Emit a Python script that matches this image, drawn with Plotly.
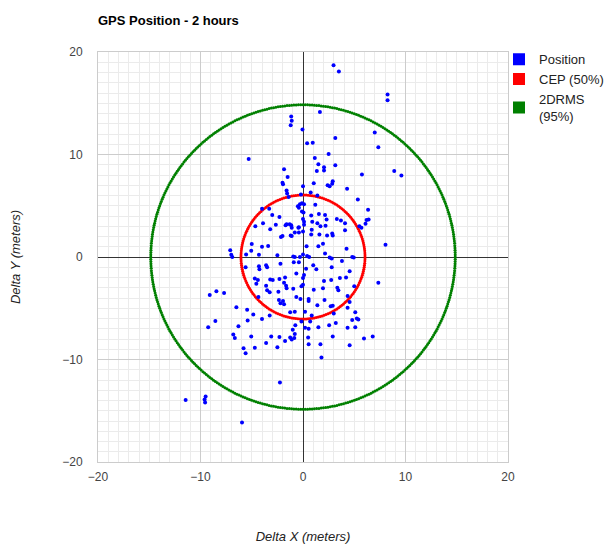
import numpy as np
import plotly.graph_objects as go

# ===============================
# DATOS
# ===============================
pos_x = [
    -1.15, -1.1, -1.2, -0.05, 0.4, -5.3, -1.85, -1.5, -2.0, -1.95, -1.6, 0.0, -1.55, -0.2,
    -0.5, -0.3, -0.1, 0.1, -0.4,
    -4.0, -3.3, -3.0, -2.3, -0.1, -3.9, -2.65, -1.6, -1.3, -0.4, -3.2, -2.0, -1.1, -0.8, 0.0,
    -5.0, -4.0, -3.4, -5.05, -7.1, -7.0, -6.9, -4.3, -2.5, -0.95, -0.3, -0.8,
    -1.4, 0.05, 0.0, 0.1, -4.65, -1.7, -1.15, -1.1, -0.45, -0.4, -2.15, -1.2, -5.55, 0.0, 0.4,
    2.98, 3.5, 8.25, 8.25, 1.65, 7.0, 3.15, 7.35, 0.95, 2.5, 1.15, 1.5, 3.15, 2.05, 2.05, 1.35,
    8.9, 9.6, 5.75, 1.05, 2.9, 2.85, 2.4, 2.6, 4.3, 0.75, 1.4, 5.35, 1.2, 6.35,
    0.8, 1.55, 2.15, 3.3, 3.7, 4.1, 6.2, 6.4, 6.1, 2.3, 0.1,
    1.7, 2.2, 5.5, 5.7, 0.85, 0.8, 1.6, 2.35, 2.85, 2.9, 4.1,
    1.95, 1.5, 0.35, 4.25, 8.05, 2.15, 2.6, 2.8, 4.8, 4.95, 0.6, 0.9, 1.4,
    -5.6, -4.3, -4.25, -3.6, -3.5, -2.2, -0.9, -0.4, -4.7, -4.55, -4.4, -3.2, -2.95, -2.3,
    -1.75, -1.85, -0.65, 0.0, -0.15, -1.65, -1.6, -3.6, -0.95,
    -9.1, -8.45, -7.7, -3.5, -3.25, -2.4, -4.35, -2.35, -2.2, -1.95, -1.85, -0.65, -0.25,
    -6.5, -5.45, -4.85, -4.0, -3.25, -5.4, -1.25, 0.2, -8.55, -9.25, -6.3,
    -0.75, -1.0, -0.8, -0.85, -1.1, -1.25,
    -6.8, -6.65, -5.05, -3.6, -3.1, -2.3, -1.75, -2.5, -5.8, -4.7, -5.6,
    -2.25, -11.45, -9.5, -9.6, -9.55, -5.95, 0.3,
    1.0, 1.3, 0.1, 0.0, 2.8, 3.8, 4.55, 4.2, 3.6, 2.75, 2.05, 7.35, 5.0, 3.35, 3.45, 1.95, 1.05,
    0.55, 0.55, 1.4, 2.1, 2.7, 2.9, 4.35, 4.55, 4.35, 5.1, 3.0, -0.8, 0.85, 0.7, -0.15,
    4.8, 5.25, 5.4, 2.55, 3.2, 4.35, 5.1, 1.5, 0.2, 0.55, 0.5, 0.55, 2.9, 1.7, 4.55,
    5.95, 6.8, 1.8,
]
pos_y = [
    13.7, 13.3, 12.85, 12.45, 11.1, 9.55, 8.55, 7.8, 7.25, 7.1, 6.5, 6.9, 6.2, 6.1,
    4.95, 5.15, 5.25, 5.15, 4.8,
    4.7, 4.7, 4.1, 3.9, 4.45, 3.3, 3.15, 3.2, 3.2, 2.9, 2.7, 2.05, 2.05, 2.4, 2.5,
    1.27, 1.0, 1.07, 0.62, 0.65, 0.23, 0.0, 0.23, 0.17, 0.05, 0.0, 0.0,
    5.85, 4.35, 3.7, 3.45, 3.0, 3.1, 3.1, 2.85, 2.85, 2.4, 1.95, 2.1, 0.25, 0.25, 0.1,
    18.7, 18.1, 15.85, 15.3, 14.15, 12.15, 11.6, 10.7, 11.15, 10.05, 9.65, 9.05, 8.95, 8.75, 8.45, 8.4,
    8.4, 7.95, 8.05, 7.2, 7.4, 7.15, 7.0, 6.9, 6.65, 6.3, 6.0, 5.6, 5.1, 4.6,
    4.05, 4.2, 4.1, 3.7, 3.55, 3.3, 3.6, 3.65, 3.25, 3.65, 3.15,
    3.0, 3.05, 3.0, 2.85, 2.65, 2.2, 2.2, 2.1, 2.3, 2.1, 2.6,
    1.3, 1.05, 1.05, 0.8, 1.2, 0.35, -0.05, -0.15, 0.0, -0.05, 0.0, 3.45, 3.3,
    -1.0, -0.9, -1.2, -0.8, -1.0, -0.65, -0.5, -0.5, -2.1, -2.6, -2.25, -2.2, -2.25, -2.15,
    -2.0, -2.5, -1.6, -2.7, -2.85, -2.8, -3.05, -2.8, -3.1,
    -3.7, -3.35, -3.5, -3.25, -3.45, -3.4, -3.9, -4.2, -4.5, -4.3, -4.6, -3.9, -4.1,
    -4.9, -5.15, -5.6, -6.05, -5.7, -6.2, -5.4, -5.35, -6.25, -6.85, -6.75,
    -6.65, -7.1, -7.5, -7.9, -8.05, -7.85,
    -7.55, -7.9, -7.75, -8.4, -7.75, -7.8, -8.2, -8.8, -8.9, -8.85, -9.4,
    -12.25, -13.95, -13.6, -13.9, -14.2, -16.15, -1.15,
    -0.8, -1.2, -1.75, -2.05, -1.0, -0.4, -1.4, -2.0, -2.05, -2.25, -2.35, -2.5, -2.85, -3.0, -3.25, -3.05, -3.2,
    -4.1, -4.3, -4.7, -4.2, -4.8, -4.75, -3.8, -4.4, -4.95, -5.4, -5.5, -5.35, -5.7, -6.3, -6.3,
    -6.15, -6.0, -6.1, -6.65, -6.45, -6.9, -6.85, -6.85, -6.9, -7.0, -7.85, -8.5, -7.75, -8.5, -8.6,
    -7.95, -7.75, -9.8,
]

cep_radio = 6.05       # CEP (50%)
drms_radio = 14.85     # 2DRMS (95%)

ticks = [-20, -10, 0, 10, 20]

FUENTE = "Arial, Liberation Sans, sans-serif"

# la pagina tiene 8px de margen en el body
ANCHO, ALTO = 605, 537

# ===============================
# CIRCULOS (puntos sobre el radio)
# ===============================
ang_cep = np.linspace(0, 2 * np.pi, 190, endpoint=False)
ang_drms = np.linspace(0, 2 * np.pi, 420, endpoint=False)

fig = go.Figure()

fig.add_trace(
    go.Scatter(
        x=drms_radio * np.cos(ang_drms),
        y=drms_radio * np.sin(ang_drms),
        mode="markers",
        marker=dict(size=3, color="#008000"),
        showlegend=False,
        hoverinfo="skip"
    )
)

fig.add_trace(
    go.Scatter(
        x=cep_radio * np.cos(ang_cep),
        y=cep_radio * np.sin(ang_cep),
        mode="markers",
        marker=dict(size=3, color="#ff0000"),
        showlegend=False,
        hoverinfo="skip"
    )
)

fig.add_trace(
    go.Scatter(
        x=pos_x,
        y=pos_y,
        mode="markers",
        marker=dict(size=4, color="#0000ff"),
        showlegend=False
    )
)

# leyenda con cuadrados
for nombre, color in [("Position", "#0000ff"), ("CEP (50%)", "#ff0000"), ("2DRMS<br>(95%)", "#008000")]:
    fig.add_trace(
        go.Scatter(
            x=[None], y=[None],
            mode="markers",
            name=nombre,
            marker=dict(symbol="square", size=12, color=color)
        )
    )

eje = dict(
    range=[-20, 20],
    tickvals=ticks,
    showgrid=True,
    gridcolor="#cccccc",
    gridwidth=1,
    minor=dict(dtick=1, showgrid=True, gridcolor="#ebebeb", gridwidth=1),
    zeroline=True,
    zerolinecolor="#333333",
    zerolinewidth=1,
    showline=True,
    linecolor="#cccccc",
    mirror=True,
    ticks="",
    tickfont=dict(size=12, color="#444444", family=FUENTE),
)

fig.update_layout(
    width=ANCHO,
    height=ALTO,
    margin=dict(l=90, r=105, t=44, b=83, autoexpand=False),
    plot_bgcolor="white",
    paper_bgcolor="white",
    font=dict(family=FUENTE, size=13, color="#222222"),
    title=dict(
        text="<b>GPS Position - 2 hours</b>",
        x=90 / ANCHO, xanchor="left", xref="container",
        y=1 - 12 / ALTO, yanchor="middle", yref="container",
        font=dict(size=13, color="#000000", family=FUENTE)
    ),
    xaxis=dict(
        eje,
        ticklabelstandoff=4,
        title=dict(text="<i>Delta X (meters)</i>", standoff=48,
                   font=dict(size=13, color="#222222", family=FUENTE)),
    ),
    yaxis=dict(
        eje,
        ticklabelstandoff=12,
        title=dict(text="<i>Delta Y (meters)</i>", standoff=46,
                   font=dict(size=13, color="#222222", family=FUENTE)),
    ),
    legend=dict(
        x=(491 - 90) / 410, xanchor="left", y=1.019, yanchor="top",
        font=dict(size=13, color="#222222", family=FUENTE),
        tracegroupgap=5,
        bgcolor="rgba(0,0,0,0)"
    ),
)

fig.write_html("out.html")
